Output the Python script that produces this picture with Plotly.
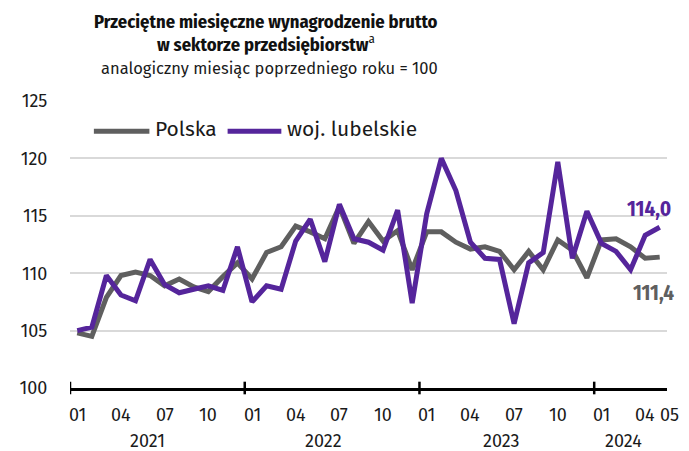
import plotly.graph_objects as go

# ---- data ----
years = [2021, 2022, 2023, 2024]
months_per_year = [12, 12, 12, 5]
polska = [104.8, 104.5, 107.9, 109.8, 110.1, 109.8, 108.9, 109.5, 108.8, 108.4,
          109.7, 110.9, 109.5, 111.8, 112.3, 114.1, 113.6, 113.0, 115.8, 112.6,
          114.5, 112.8, 113.7, 110.3, 113.6, 113.6, 112.7, 112.1, 112.3, 111.9,
          110.3, 111.9, 110.3, 112.9, 112.0, 109.6, 112.9, 113.0, 112.3, 111.3,
          111.4]
lubelskie = [105.0, 105.3, 109.8, 108.1, 107.6, 111.2, 109.0, 108.3, 108.6, 108.9,
             108.5, 112.3, 107.5, 108.9, 108.6, 112.8, 114.7, 111.0, 116.0, 113.0,
             112.7, 112.0, 115.5, 107.4, 115.2, 120.0, 117.2, 112.7, 111.3, 111.2,
             105.6, 110.9, 111.8, 119.7, 111.3, 115.4, 112.6, 111.9, 110.3, 113.3,
             114.0]
y_ticks = [100, 105, 110, 115, 120, 125]
series_names = ["Polska", "woj. lubelskie"]
colors = ["#5f5f5f", "#55259b"]

# categories
cats = []
for yr, n in zip(years, months_per_year):
    for m in range(1, n + 1):
        cats.append((yr, m))
xs = list(range(len(cats)))
N = len(cats)

REG = "Fira Sans, Open Sans, sans-serif"
BOLDC = "Fira Sans Condensed, Roboto Condensed, Liberation Sans Narrow, Roboto, sans-serif"
TXT = "#1a1a1a"

fig = go.Figure()
for name, vals, col in zip(series_names, [polska, lubelskie], colors):
    fig.add_trace(go.Scatter(x=xs, y=vals, mode="lines", name=name,
                             line=dict(color=col, width=5), showlegend=False))

annotations = []
shapes = []

# month labels
for i, (yr, m) in enumerate(cats):
    if (m - 1) % 3 == 0:
        annotations.append(dict(x=i, y=-0.095, xref="x", yref="paper", text=f"{m:02d}",
                                showarrow=False, xanchor="center", yanchor="middle",
                                font=dict(family=REG, size=18, color=TXT)))
# trailing label for the last month (sits just past the axis end)
annotations.append(dict(x=1.0, y=-0.095, xref="paper", yref="paper",
                        text=f"{cats[-1][1]:02d}", showarrow=False,
                        xanchor="right", xshift=14, yanchor="middle",
                        font=dict(family=REG, size=18, color=TXT)))
# year labels + year boundary ticks
year_offsets = [4.8, 4.9, 5.1, 1.5]
start = 0
for yr, n, off in zip(years, months_per_year, year_offsets):
    annotations.append(dict(x=start + off, y=-0.185, xref="x", yref="paper", text=str(yr),
                            showarrow=False, xanchor="center", yanchor="middle",
                            font=dict(family=REG, size=18, color=TXT)))
    shapes.append(dict(type="line", xref="x", yref="paper", x0=start - 0.5, x1=start - 0.5,
                       y0=-0.022, y1=0.022, line=dict(color="black", width=2.5)))
    start += n

# title
annotations.append(dict(x=0.329, y=1.275, xref="paper", yref="paper",
                        text="<b>Przeciętne miesięczne wynagrodzenie brutto</b>",
                        showarrow=False, xanchor="center", yanchor="middle",
                        font=dict(family=BOLDC, size=18.5, color="#111111")))
annotations.append(dict(x=0.329, y=1.200, xref="paper", yref="paper",
                        text="<b>w sektorze przedsiębiorstw</b><sup>a</sup>",
                        showarrow=False, xanchor="center", yanchor="middle",
                        font=dict(family=BOLDC, size=18.5, color="#111111")))
annotations.append(dict(x=0.335, y=1.111, xref="paper", yref="paper",
                        text="analogiczny miesiąc poprzedniego roku = 100",
                        showarrow=False, xanchor="center", yanchor="middle",
                        font=dict(family=REG, size=16.5, color=TXT)))

# legend (manual)
leg_y = 0.895
leg = [(0.040, 0.133, 0.1395), (0.264, 0.354, 0.3605)]
for (x0, x1, xt), name, col in zip(leg, series_names, colors):
    shapes.append(dict(type="line", xref="paper", yref="paper", x0=x0, x1=x1,
                       y0=leg_y, y1=leg_y, line=dict(color=col, width=5)))
    annotations.append(dict(x=xt, y=leg_y + 0.006, xref="paper", yref="paper", text=name,
                            showarrow=False, xanchor="left", yanchor="middle",
                            font=dict(family=REG, size=21, color=TXT)))

# end value labels
def fmt(v):
    return f"{v:.1f}".replace(".", ",")

annotations.append(dict(x=xs[-1], y=lubelskie[-1], xref="x", yref="y", text=f"<b>{fmt(lubelskie[-1])}</b>",
                        showarrow=False, xanchor="center", yanchor="middle", xshift=-11, yshift=18,
                        font=dict(family=BOLDC, size=21, color=colors[1])))
annotations.append(dict(x=xs[-1], y=polska[-1], xref="x", yref="y", text=f"<b>{fmt(polska[-1])}</b>",
                        showarrow=False, xanchor="center", yanchor="middle", xshift=-6, yshift=-36,
                        font=dict(family=BOLDC, size=21, color=colors[0])))

fig.update_layout(
    width=681, height=443,
    margin=dict(l=57, r=22, t=93, b=63),
    paper_bgcolor="white", plot_bgcolor="white",
    annotations=annotations, shapes=shapes,
    xaxis=dict(range=[-0.5, N - 0.5], showticklabels=False, showgrid=False,
               zeroline=False, showline=True, linecolor="black", linewidth=2.5, ticks=""),
    yaxis=dict(range=[y_ticks[0], y_ticks[-1]], tickvals=y_ticks, showgrid=True,
               gridcolor="#d9d9d9", gridwidth=1.5, zeroline=False, showline=False,
               ticks="outside", ticklen=18, tickcolor="rgba(0,0,0,0)",
               tickfont=dict(family=REG, size=18, color=TXT)),
)

fig.write_html("out.html")
